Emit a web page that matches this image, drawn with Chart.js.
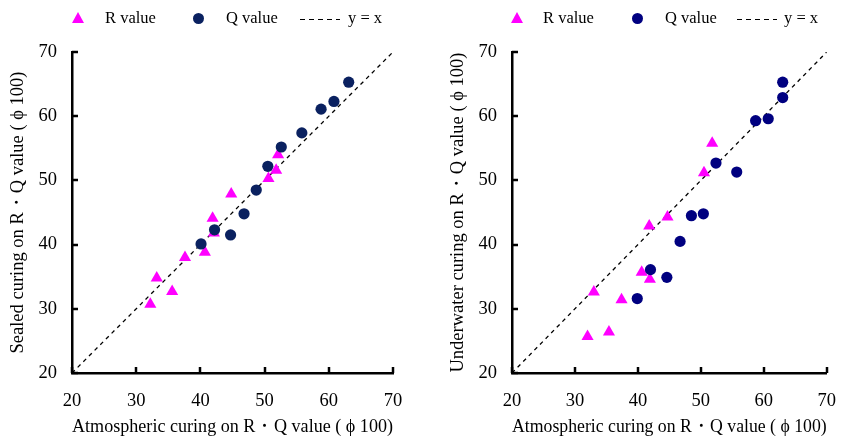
<!DOCTYPE html>
<html>
<head>
<meta charset="utf-8">
<script src="https://cdn.jsdelivr.net/npm/chart.js@4.4.0/dist/chart.umd.min.js"></script>
<style>
  body { margin: 0; background: #fff; width: 853px; height: 441px; overflow: hidden; position: relative; font-family: "Liberation Serif", "Times New Roman", serif; }
  .panel { position: absolute; top: 0; height: 441px; }
  .legend { position: absolute; top: 8px; font-size: 16.5px; color: #000; line-height: 20px; }
  .legend span { position: absolute; white-space: nowrap; }
  .tri { width: 0; height: 0; border-left: 6px solid transparent; border-right: 6px solid transparent; border-bottom: 11px solid #ff00ff; top: 4px; }
  .dot { width: 11px; height: 11px; border-radius: 50%; top: 5px; }
  .dash { width: 40px; height: 1.3px; top: 11px; background: repeating-linear-gradient(90deg, #000 0 5px, transparent 5px 9px); }
</style>
</head>
<body>
<div class="panel" style="left:0;width:426px;"><canvas id="sealed"></canvas></div>
<div class="panel" style="left:440px;width:413px;"><canvas id="water"></canvas></div>

<div class="legend" style="left:0;">
  <span class="tri" style="left:72px;"></span><span style="left:105px;">R value</span>
  <span class="dot" style="left:193px;background:#0a2160;"></span><span style="left:226px;">Q value</span>
  <span class="dash" style="left:300px;"></span><span style="left:348px;">y = x</span>
</div>
<div class="legend" style="left:440px;">
  <span class="tri" style="left:71px;"></span><span style="left:103px;">R value</span>
  <span class="dot" style="left:192px;background:#000080;"></span><span style="left:225px;">Q value</span>
  <span class="dash" style="left:297px;"></span><span style="left:344px;">y = x</span>
</div>

<script>
// atmospheric-cured R / Q values (x) against sealed and underwater curing (y)
const rAtmoSealed = [32.2, 33.2, 35.6, 37.6, 40.7, 41.9, 42.1, 44.8, 50.6, 51.8, 52.1];
const rSealed     = [30.7, 34.8, 32.7, 38.0, 38.8, 44.1, 41.8, 47.9, 50.3, 51.6, 54.0];
const qAtmoSealed = [40.1, 42.2, 44.7, 46.8, 48.7, 50.5, 52.6, 55.8, 58.8, 60.8, 63.1];
const qSealed     = [40.1, 42.3, 41.5, 44.8, 48.5, 52.2, 55.2, 57.4, 61.1, 62.3, 65.3];

const rAtmoWater = [32.0, 33.0, 35.4, 37.4, 40.6, 41.8, 41.9, 44.7, 50.5, 51.8];
const rWater     = [25.7, 32.6, 26.4, 31.4, 35.7, 42.9, 34.6, 44.3, 51.2, 55.8];
const qAtmoWater = [39.9, 42.0, 44.6, 46.7, 48.5, 50.4, 52.4, 55.7, 58.7, 60.7, 63.0, 63.0];
const qWater     = [31.6, 36.1, 34.9, 40.5, 44.5, 44.8, 52.7, 51.3, 59.3, 59.6, 62.9, 65.3];

const axisRange = [20, 70];
const tickStep = 10;

const xTitle = 'Atmospheric curing on R\u30FBQ value ( \u03D5 100)';

function pts(xs, ys) {
  return xs.map(function(v, i) { return { x: v, y: ys[i] }; });
}

// short tick marks pointing into the plot area
const innerTicks = {
  id: 'innerTicks',
  afterDatasetsDraw(chart) {
    const ctx = chart.ctx;
    const area = chart.chartArea;
    const xs = chart.scales.x, ys = chart.scales.y;
    ctx.save();
    ctx.strokeStyle = '#000';
    ctx.lineWidth = 2.5;
    xs.ticks.forEach(function(t) {
      const px = Math.round(xs.getPixelForValue(t.value));
      ctx.beginPath(); ctx.moveTo(px, area.bottom); ctx.lineTo(px, area.bottom - 6); ctx.stroke();
    });
    ys.ticks.forEach(function(t) {
      const py = Math.round(ys.getPixelForValue(t.value));
      ctx.beginPath(); ctx.moveTo(area.left, py); ctx.lineTo(area.left + 6, py); ctx.stroke();
    });
    ctx.restore();
  }
};

function makeChart(id, width, rightPad, rx, ry, qx, qy, qColor, yTitle) {
  const canvas = document.getElementById(id);
  canvas.style.width = width + 'px';
  canvas.style.height = '441px';
  return new Chart(canvas, {
    type: 'scatter',
    data: {
      datasets: [
        {
          label: 'Q value',
          data: pts(qx, qy),
          pointStyle: 'circle',
          pointRadius: 5.6,
          backgroundColor: qColor,
          borderColor: qColor,
          borderWidth: 0,
          order: 1
        },
        {
          label: 'R value',
          data: pts(rx, ry),
          pointStyle: 'triangle',
          pointRadius: 7,
          backgroundColor: '#ff00ff',
          borderColor: '#ff00ff',
          borderWidth: 0,
          order: 2
        },
        {
          type: 'line',
          label: 'y = x',
          data: pts(axisRange, axisRange),
          borderColor: '#000',
          borderWidth: 1.3,
          borderDash: [4, 4],
          pointRadius: 0,
          fill: false,
          order: 3
        }
      ]
    },
    options: {
      responsive: false,
      animation: false,
      events: [],
      layout: { padding: { top: 52, right: rightPad, bottom: 0, left: 0 } },
      plugins: { legend: { display: false }, tooltip: { enabled: false } },
      scales: {
        x: {
          type: 'linear',
          min: axisRange[0], max: axisRange[1],
          afterFit: function(s) { s.height = 68; },
          grid: { drawOnChartArea: false, drawTicks: false },
          border: { display: true, color: '#000', width: 2.5 },
          ticks: { stepSize: tickStep, color: '#000', padding: 17, font: { family: 'Liberation Serif', size: 18.5 } },
          title: { display: true, text: xTitle, color: '#000', padding: { top: 0, bottom: 3 }, font: { family: 'Liberation Serif', size: 18.5 } }
        },
        y: {
          type: 'linear',
          min: axisRange[0], max: axisRange[1],
          afterFit: function(s) { s.width = 72; },
          grid: { drawOnChartArea: false, drawTicks: false },
          border: { display: true, color: '#000', width: 2.5 },
          ticks: { stepSize: tickStep, color: '#000', padding: 15, font: { family: 'Liberation Serif', size: 18.5 } },
          title: { display: true, text: yTitle, color: '#000', padding: { top: 7, bottom: 0 }, font: { family: 'Liberation Serif', size: 18.5 } }
        }
      }
    },
    plugins: [innerTicks]
  });
}

makeChart('sealed', 426, 33, rAtmoSealed, rSealed, qAtmoSealed, qSealed, '#0a2160',
  'Sealed curing on R\u30FBQ value ( \u03D5 100)');
makeChart('water', 413, 21, rAtmoWater, rWater, qAtmoWater, qWater, '#000080',
  'Underwater curing on R\u30FBQ value ( \u03D5 100)');
</script>
</body>
</html>
